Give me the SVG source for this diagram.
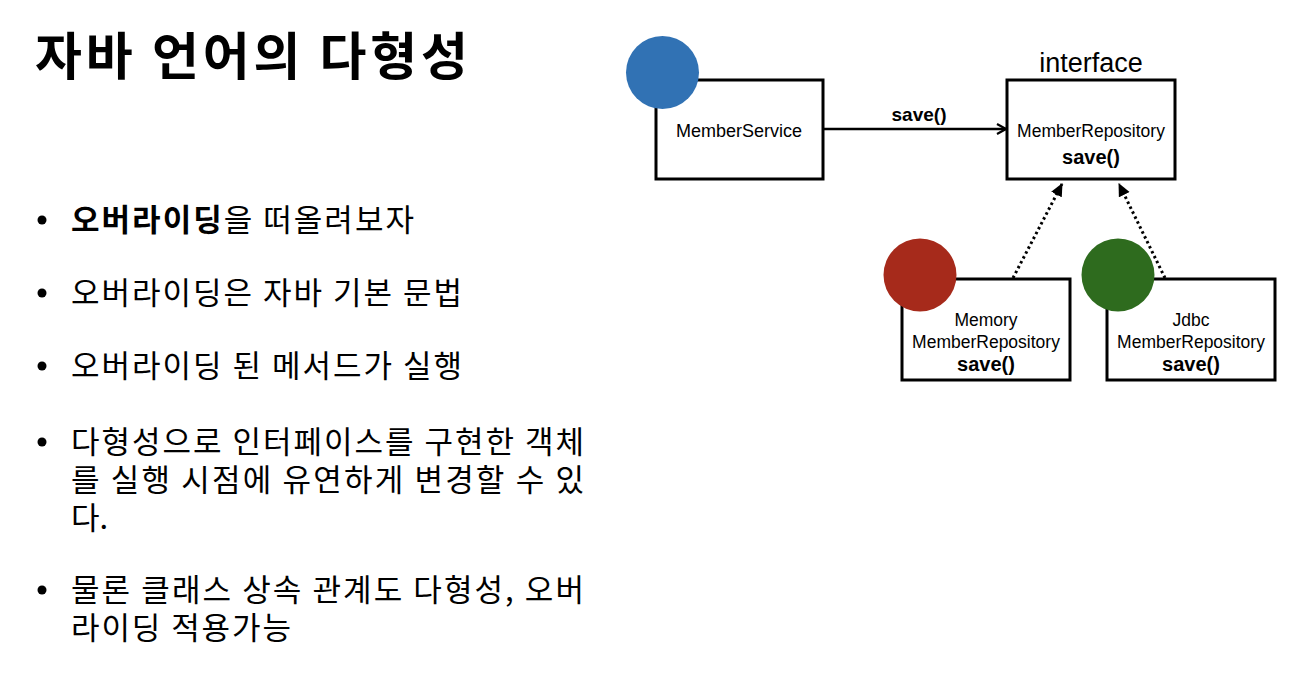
<svg xmlns="http://www.w3.org/2000/svg" width="1300" height="680" viewBox="0 0 1300 680">
<style>
.ko{font-family:"Noto Sans CJK KR","Noto Sans",sans-serif;fill:#000}
.title{font-size:51px;font-weight:bold}
.body{font-size:31px}
.box{fill:#fff;stroke:#000;stroke-width:3}
.lbl{font-family:"Liberation Sans",Arial,sans-serif;font-size:17.5px;text-anchor:middle;fill:#000}
.bold{font-weight:bold;font-size:20px}
.iface{font-family:"Liberation Sans",Arial,sans-serif;font-size:27px;text-anchor:middle;fill:#000}
.dot{fill:#000}
.solid{stroke:#000;stroke-width:2.5;fill:none}
.dotted{stroke:#000;stroke-width:3;fill:none;stroke-dasharray:2.5 3}
</style>
<defs>
<marker id="open" viewBox="0 0 12 12" refX="11" refY="6" markerWidth="12" markerHeight="12" markerUnits="userSpaceOnUse" orient="auto">
<path d="M2,1 L11,6 L2,11" fill="none" stroke="#000" stroke-width="2.2"/>
</marker>
<marker id="tri" viewBox="0 0 12 12" refX="11" refY="6" markerWidth="13" markerHeight="13" markerUnits="userSpaceOnUse" orient="auto">
<path d="M0,0.5 L12,6 L0,11.5 Z" fill="#000"/>
</marker>
</defs>
<rect width="1300" height="680" fill="#fff"/>

<g id="title">
<text class="ko title" x="35" y="75" textLength="433" lengthAdjust="spacing">자바 언어의 다형성</text>
</g>

<g id="bullets">
<circle class="dot" cx="42" cy="220" r="4.5"/>
<text class="ko body" x="71" y="231" textLength="343" lengthAdjust="spacing"><tspan font-weight="bold">오버라이딩</tspan>을 떠올려보자</text>
<circle class="dot" cx="42" cy="293" r="4.5"/>
<text class="ko body" x="71" y="304" textLength="391" lengthAdjust="spacing">오버라이딩은 자바 기본 문법</text>
<circle class="dot" cx="42" cy="366" r="4.5"/>
<text class="ko body" x="71" y="377" textLength="391" lengthAdjust="spacing">오버라이딩 된 메서드가 실행</text>
<circle class="dot" cx="42" cy="442" r="4.5"/>
<text class="ko body" x="71" y="453" textLength="513" lengthAdjust="spacing">다형성으로 인터페이스를 구현한 객체</text>
<text class="ko body" x="71" y="491" textLength="513" lengthAdjust="spacing">를 실행 시점에 유연하게 변경할 수 있</text>
<text class="ko body" x="71" y="529">다.</text>
<circle class="dot" cx="42" cy="590" r="4.5"/>
<text class="ko body" x="71" y="601" textLength="513" lengthAdjust="spacing">물론 클래스 상속 관계도 다형성, 오버</text>
<text class="ko body" x="71" y="639" textLength="220" lengthAdjust="spacing">라이딩 적용가능</text>
</g>

<g id="connectors">
<line class="solid" x1="823" y1="129" x2="1006" y2="129" marker-end="url(#open)"/>
<text class="lbl bold" x="919" y="121" style="font-size:19px">save()</text>
<line class="dotted" x1="1013" y1="278" x2="1062" y2="184" marker-end="url(#tri)"/>
<line class="dotted" x1="1165" y1="278" x2="1119" y2="184" marker-end="url(#tri)"/>
</g>

<g id="memberService">
<rect class="box" x="656" y="80" width="167" height="99"/>
<circle cx="662.5" cy="72.5" r="36.5" fill="#3172B4"/>
<text class="lbl" x="739" y="137" style="font-size:18px">MemberService</text>
</g>

<g id="memberRepository">
<text class="iface" x="1091" y="72">interface</text>
<rect class="box" x="1007" y="80" width="168" height="99"/>
<text class="lbl" x="1091" y="137">MemberRepository</text>
<text class="lbl bold" x="1091" y="164">save()</text>
</g>

<g id="memoryRepository">
<rect class="box" x="902" y="279" width="168" height="101"/>
<circle cx="920" cy="275" r="36.5" fill="#A62A1B"/>
<text class="lbl" x="986" y="326">Memory</text>
<text class="lbl" x="986" y="348">MemberRepository</text>
<text class="lbl bold" x="986" y="371">save()</text>
</g>

<g id="jdbcRepository">
<rect class="box" x="1107" y="279" width="168" height="101"/>
<circle cx="1118" cy="275" r="36.5" fill="#2E6B1E"/>
<text class="lbl" x="1191" y="326">Jdbc</text>
<text class="lbl" x="1191" y="348">MemberRepository</text>
<text class="lbl bold" x="1191" y="371">save()</text>
</g>
</svg>
